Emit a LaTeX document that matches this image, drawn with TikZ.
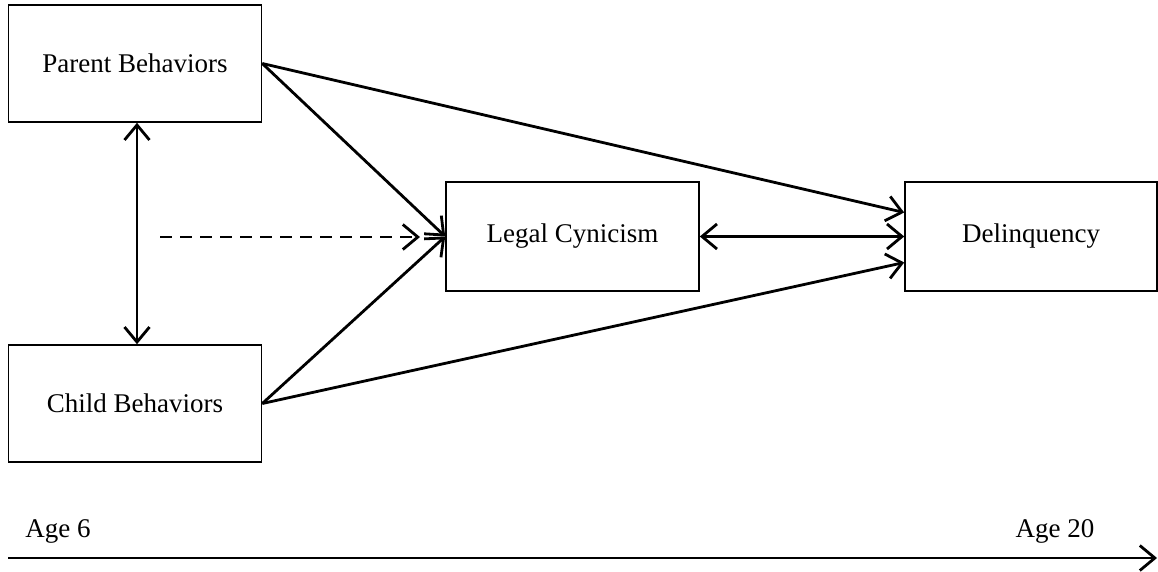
\documentclass[tikz,border=0pt]{standalone}
\usepackage{fontspec}
\setmainfont{Liberation Serif}
\usetikzlibrary{arrows.meta}
\begin{document}
\begin{tikzpicture}[x=1pt,y=-1pt,
  box/.style={draw, line width=1.6pt, minimum width=253pt, minimum height=#1, inner sep=0pt,
    font=\fontsize{27}{30}\selectfont},
  box/.default=117pt,
  barb/.style={Straight Barb[length=15pt,width=25pt,line width=2.8pt]},
  link/.style={line width=2.8pt, -{Straight Barb[length=15pt,width=25pt,line width=2.8pt]}},
  both/.style={line width=2.8pt, {Straight Barb[length=15pt,width=25pt,line width=2.8pt]}-{Straight Barb[length=15pt,width=25pt,line width=2.8pt]}},
  agelabel/.style={font=\fontsize{27}{30}\selectfont}]
\useasboundingbox (0,0) rectangle (1158,571);
\fill[white] (0,0) rectangle (1158,571);

% variables
\node[box] (P) at (135,63.5) {Parent Behaviors};
\node[box] (C) at (135,403.5) {Child Behaviors};
\node[box=109pt] (L) at (572.5,236.5) {Legal Cynicism};
\node[box=109pt, minimum width=252pt] (D) at (1031,236.5) {Delinquency};

% paths
\draw[link] (P.east) -- (L.west);
\draw[link] (C.east) -- (L.west);
\draw[link] (P.east) -- ([yshift=24pt]D.west);
\draw[link] (C.east) -- ([yshift=-26pt]D.west);
\draw[both] (L.east) -- (D.west);
\draw[both] ([xshift=2pt]P.south) -- ([xshift=2pt]C.north);

% interaction path
\coordinate (m0) at (160,237);
\coordinate (m1) at (420,237);
\draw[link, dash pattern=on 12pt off 8pt] (m0) -- (m1);

% time axis
\coordinate (t0) at (8,558);
\coordinate (t1) at (1157,558);
\draw[link] (t0) -- (t1);
\node[agelabel] (a6) at (58,531) {Age 6};
\node[agelabel] (a20) at (1055,531) {Age 20};
\end{tikzpicture}
\end{document}
